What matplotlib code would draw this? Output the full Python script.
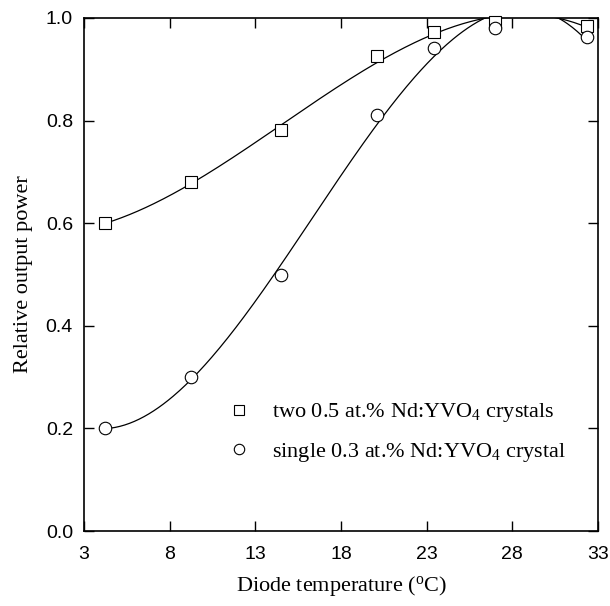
import numpy as np
import matplotlib
matplotlib.use("Agg")
import matplotlib.pyplot as plt
from matplotlib.lines import Line2D

# Data
temp = [4.25, 9.25, 14.5, 20.1, 23.4, 27.0, 32.35]
two_crystals = [0.600, 0.680, 0.781, 0.925, 0.972, 0.992, 0.985]
single_crystal = [0.200, 0.300, 0.500, 0.810, 0.942, 0.980, 0.963]

x_ticks = [3, 8, 13, 18, 23, 28, 33]
y_ticks = [0.0, 0.2, 0.4, 0.6, 0.8, 1.0]

label_two = "two 0.5 at.% Nd:YVO$_4$ crystals"
label_single = "single 0.3 at.% Nd:YVO$_4$ crystal"

plt.rcParams['mathtext.fontset'] = 'custom'
plt.rcParams['mathtext.rm'] = 'Liberation Serif'
plt.rcParams['mathtext.it'] = 'Liberation Serif:italic'
plt.rcParams['mathtext.bf'] = 'Liberation Serif:bold'

fig = plt.figure(figsize=(6.10, 6.06), dpi=100)
ax = fig.add_axes([84/610, 1 - 531/606, (598-84)/610, (531-18)/606])

serif = 'Liberation Serif'
sans = 'Liberation Sans'

# Fitted curves (polynomial regression of the data)
xs = np.linspace(min(temp), max(temp), 300)
for ys in (two_crystals, single_crystal):
    coef = np.polyfit(temp, ys, 3)
    ax.plot(xs, np.polyval(coef, xs), color='black', lw=0.9, zorder=2)

ms = 9
ax.plot(temp, two_crystals, linestyle='none', marker='s', ms=ms, mfc='white',
        mec='black', mew=0.8, zorder=3, clip_on=False)
ax.plot(temp, single_crystal, linestyle='none', marker='o', ms=ms, mfc='white',
        mec='black', mew=0.8, zorder=3, clip_on=False)

ax.set_xlim(3, 33)
ax.set_ylim(0, 1.0)
ax.set_xticks(x_ticks)
ax.set_yticks(y_ticks)
ax.set_xticklabels([str(v) for v in x_ticks], fontfamily=sans, fontsize=14)
ax.set_yticklabels([f"{v:.1f}" for v in y_ticks], fontfamily=sans, fontsize=14)
ax.tick_params(direction='in', length=7, width=1.0, top=True, right=True)
ax.tick_params(axis='x', pad=11)
ax.tick_params(axis='y', pad=8)
for s in ax.spines.values():
    s.set_linewidth(1.2)

ax.set_xlabel("Diode temperature ($^\\mathrm{o}$C)", fontfamily=serif, fontsize=16, labelpad=8)
ax.set_ylabel("Relative output power", fontfamily=serif, fontsize=16, labelpad=9)

handles = [
    Line2D([], [], linestyle='none', marker='s', ms=7.5, mfc='white', mec='black', mew=0.8),
    Line2D([], [], linestyle='none', marker='o', ms=7.5, mfc='white', mec='black', mew=0.8),
]
leg = ax.legend(handles, [label_two, label_single], frameon=False, loc='upper left',
                bbox_to_anchor=(0.262, 0.27), prop={'family': serif, 'size': 16},
                handlelength=1.0, handletextpad=1.0, labelspacing=0.75, borderaxespad=0)

fig.savefig("out.png", dpi=100)
